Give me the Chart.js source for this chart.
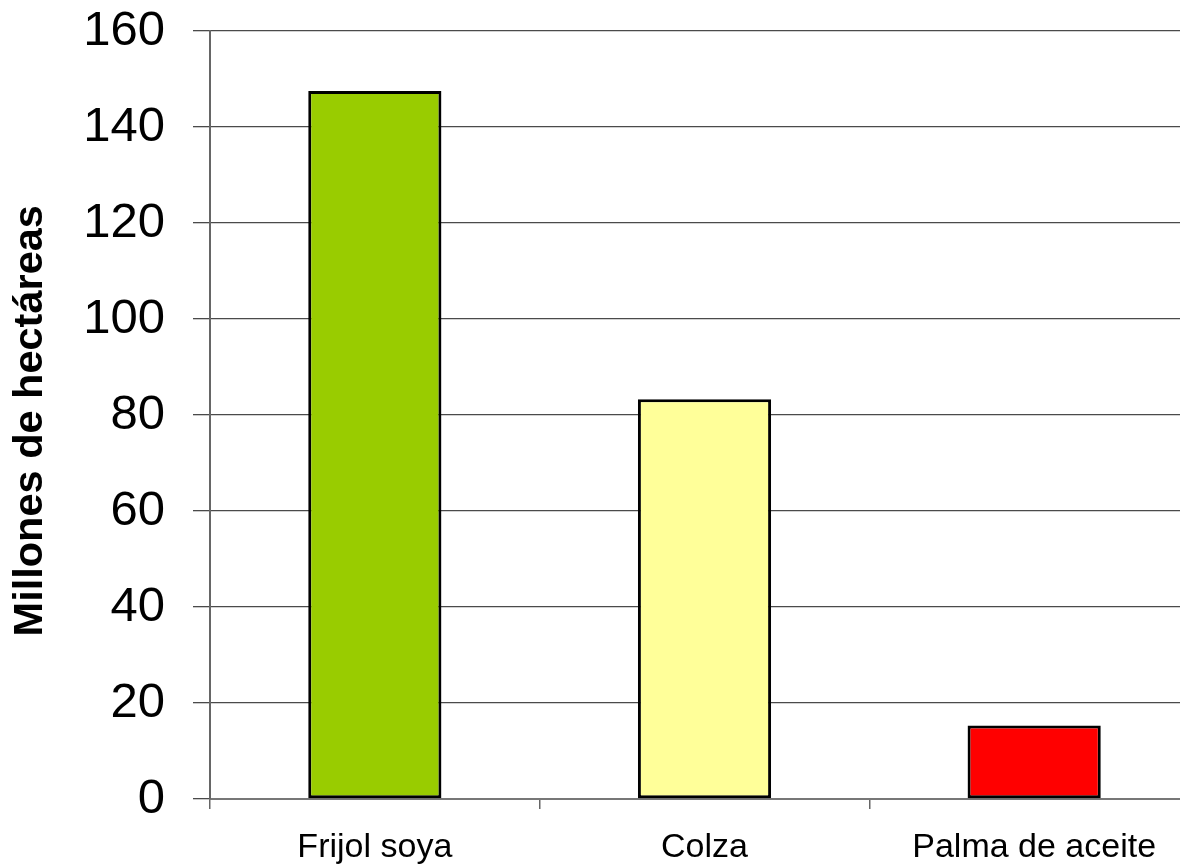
<!DOCTYPE html>
<html>
<head>
<meta charset="utf-8">
<script src="https://cdn.jsdelivr.net/npm/chart.js@4"></script>
<style>
  html, body { margin: 0; padding: 0; background: #fff; overflow: hidden; }
  #wrap { width: 1200px; height: 866px; }
</style>
</head>
<body>
<div id="wrap"><canvas id="c" width="1200" height="866"></canvas></div>
<script>
// Superficie cultivada por oleaginosa
const categories = ['Frijol soya', 'Colza', 'Palma de aceite'];
const hectareas = [147.5, 83.3, 15.3];
const barColors = ['#99CC00', '#FFFF99', '#FF0000'];
const yTicks = [0, 20, 40, 60, 80, 100, 120, 140, 160];

const FONT = '"Liberation Sans", Arial, sans-serif';

new Chart(document.getElementById('c'), {
  type: 'bar',
  data: {
    labels: categories,
    datasets: [{
      data: hectareas,
      backgroundColor: barColors,
      borderColor: '#000',
      borderWidth: 3,
      borderSkipped: false,
      categoryPercentage: 1,
      barPercentage: 0.404
    }]
  },
  options: {
    responsive: false,
    animation: false,
    devicePixelRatio: 1,
    layout: { padding: { top: 31, right: 1, left: 0, bottom: 0 } },
    plugins: { legend: { display: false }, tooltip: { enabled: false } },
    scales: {
      x: {
        offset: true,
        grid: {
          offset: true,
          drawOnChartArea: false,
          drawTicks: true,
          tickLength: 10,
          color: '#666',
          lineWidth: 1.5
        },
        border: { display: true, color: '#777', width: 2 },
        ticks: {
          color: '#000',
          padding: 18,
          font: { family: FONT, size: 34 }
        },
        afterFit: s => { s.height = 67; s.paddingLeft = 0; s.paddingRight = 0; }
      },
      y: {
        min: 0,
        max: 160,
        afterBuildTicks: s => { s.ticks = yTicks.map(v => ({ value: v })); },
        grid: {
          color: '#4a4a4a',
          lineWidth: 1.3,
          tickLength: 17
        },
        border: { display: true, color: '#666', width: 2 },
        ticks: {
          color: '#000',
          padding: 28,
          font: { family: FONT, size: 49 }
        },
        title: {
          display: true,
          // trailing space nudges the centred title slightly downward
          text: 'Millones de hectáreas ',
          color: '#000',
          font: { family: FONT, size: 41.5, weight: 'bold' },
          padding: { top: 6, bottom: 0 }
        },
        afterFit: s => { s.width = 210; s.paddingTop = 0; s.paddingBottom = 0; }
      }
    }
  }
});
</script>
</body>
</html>
